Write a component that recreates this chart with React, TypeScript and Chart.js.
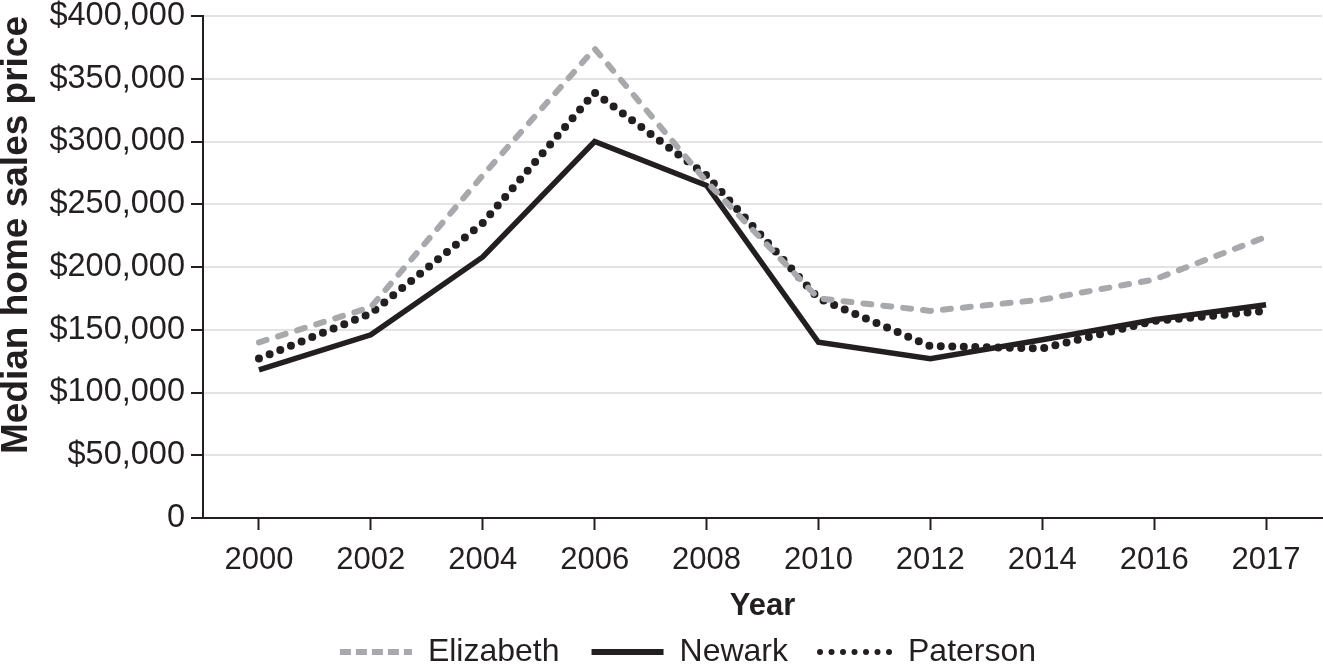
import React, { useEffect, useRef } from "react";
import { Chart, registerables } from "chart.js";

Chart.register(...registerables);

const years = ["2000", "2002", "2004", "2006", "2008", "2010", "2012", "2014", "2016", "2017"];
const elizabeth = [140000, 168000, 273000, 374000, 268000, 175000, 165000, 174000, 190000, 224000];
const newark = [118000, 146000, 208000, 300000, 265000, 140000, 127000, 142000, 158000, 170000];
const paterson = [127000, 163000, 235000, 339000, 273000, 175000, 137000, 135000, 157000, 165000];

const yMin = 0;
const yMax = 400000;
const yStep = 50000;

const INK = "#231f20";
const GRAY = "#a7a9ac";
const GRID = "#e3e3e3";
const FONT = "'Liberation Sans', Arial, Helvetica, sans-serif";

const W = 1323;
const H = 665;

// legend sample styles (per dataset)
const legendStyles = [
  { lineWidth: 6, lineDash: [11, 5], lineCap: "butt" },
  { lineWidth: 6, lineDash: [], lineCap: "butt" },
  { lineWidth: 6, lineDash: [0, 11.5], lineCap: "round" },
];

const LEGEND_FONT = 32;
const LEGEND_PAD = 32;
const LEGEND_H = LEGEND_FONT + LEGEND_PAD + 10;

export default function App() {
  const ref = useRef<HTMLCanvasElement | null>(null);

  useEffect(() => {
    if (!ref.current) return;
    const legendShift = {
      id: "legendShift",
      afterLayout(chart: any) {
        const l = chart.legend;
        if (l) {
          l.left += 27;
          l.right += 27;
          l.top += 13;
          l.bottom += 13;
        }
      },
    };
    const chart = new Chart(ref.current, {
      type: "line",
      data: {
        labels: years,
        datasets: [
          {
            label: "Elizabeth",
            data: elizabeth,
            borderColor: GRAY,
            backgroundColor: GRAY,
            borderWidth: 6,
            borderDash: [8, 12],
            borderCapStyle: "round",
            pointRadius: 0,
            tension: 0,
          },
          {
            label: "Newark",
            data: newark,
            borderColor: INK,
            backgroundColor: INK,
            borderWidth: 5.5,
            pointRadius: 0,
            tension: 0,
          },
          {
            label: "Paterson",
            data: paterson,
            borderColor: INK,
            backgroundColor: INK,
            borderWidth: 8,
            borderDash: [0, 11.5],
            borderCapStyle: "round",
            pointRadius: 0,
            tension: 0,
          },
        ],
      },
      options: {
        animation: false,
        responsive: false,
        devicePixelRatio: 1,
        layout: { padding: { top: 16, right: 1, bottom: 0, left: 0 } },
        plugins: {
          tooltip: { enabled: false },
          legend: {
            position: "bottom",
            labels: {
              usePointStyle: true,
              pointStyle: "line",
              pointStyleWidth: 72,
              padding: LEGEND_PAD,
              color: INK,
              font: { family: FONT, size: LEGEND_FONT },
              generateLabels: (c: any) =>
                c.data.datasets.map((ds: any, i: number) => ({
                  text: ds.label,
                  fillStyle: "rgba(0,0,0,0)",
                  strokeStyle: ds.borderColor,
                  fontColor: INK,
                  lineWidth: legendStyles[i].lineWidth,
                  lineDash: legendStyles[i].lineDash,
                  lineCap: legendStyles[i].lineCap,
                  pointStyle: "line",
                  hidden: false,
                  datasetIndex: i,
                })),
            },
          },
        },
        scales: {
          x: {
            type: "category",
            offset: true,
            grid: {
              display: true,
              drawOnChartArea: false,
              drawTicks: true,
              offset: false,
              tickLength: 12,
              tickWidth: 2,
              tickColor: INK,
            },
            border: { display: true, color: INK, width: 2 },
            ticks: {
              color: INK,
              padding: 12,
              maxRotation: 0,
              autoSkip: false,
              font: { family: FONT, size: 31 },
            },
            title: {
              display: true,
              text: "Year",
              color: INK,
              padding: { top: 0, bottom: -33.6 },
              font: { family: FONT, size: 31, weight: "bold" },
            },
            afterFit(scale: any) {
              scale.height = H - LEGEND_H - 518;
            },
          },
          y: {
            min: yMin,
            max: yMax,
            grid: {
              color: (c: any) => (c.tick && c.tick.value === 0 ? INK : GRID),
              lineWidth: 2,
              tickLength: 12,
              tickWidth: 2,
              tickColor: INK,
            },
            border: { display: true, color: INK, width: 2 },
            ticks: {
              stepSize: yStep,
              color: INK,
              padding: 6,
              font: { family: FONT, size: 32.5 },
              callback: (v: any) => (Number(v) === 0 ? "0" : "$" + Number(v).toLocaleString("en-US")),
            },
            title: {
              display: true,
              text: "Median home sales price",
              align: "end",
              color: INK,
              padding: { top: -5, bottom: 0 },
              font: { family: FONT, size: 37, weight: "bold" },
            },
            afterFit(scale: any) {
              scale.width = 203;
              scale.paddingTop = 0;
              scale.paddingBottom = 0;
            },
          },
        },
      },
      plugins: [legendShift],
    });
    return () => chart.destroy();
  }, []);

  return (
    <div style={{ position: "absolute", left: 0, top: 0, width: W, height: H, background: "#fff" }}>
      <canvas ref={ref} width={W} height={H} style={{ width: W, height: H, display: "block" }} />
    </div>
  );
}
